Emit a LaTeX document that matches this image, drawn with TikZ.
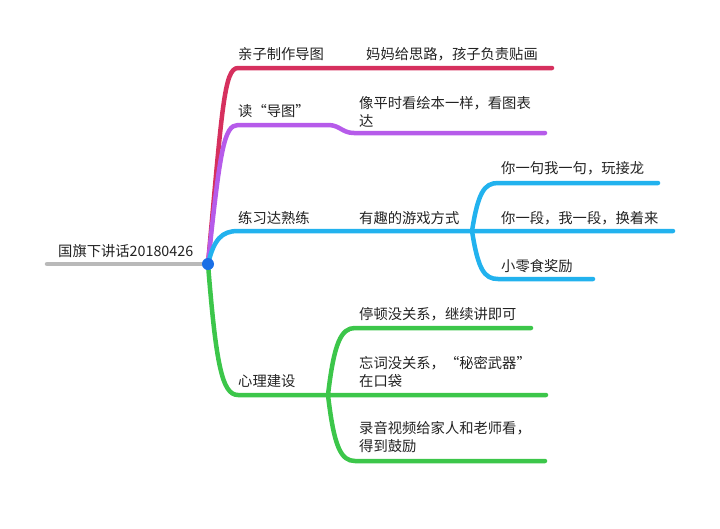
\documentclass[tikz,border=0pt]{standalone}
\usepackage{fontspec}
\newfontfamily\cjk{Noto Sans CJK SC}
\definecolor{rootgray}{HTML}{B9B9B9}
\definecolor{hubblue}{HTML}{1A6FE6}
\definecolor{crimson}{HTML}{D6305E}
\definecolor{violet}{HTML}{B65BEA}
\definecolor{skyblue}{HTML}{22B2EE}
\definecolor{leafgreen}{HTML}{3CC64A}
\definecolor{txt}{HTML}{222222}
\tikzset{
  branch/.style={line width=4.5pt, line cap=round, line join=round},
  label/.style={anchor=west, inner sep=0pt, text=txt, align=left,
    font=\cjk\fontsize{14.3}{18}\selectfont},
  hubdot/.style={circle, fill=hubblue, minimum size=12pt, inner sep=0pt}
}

\begin{document}
\begin{tikzpicture}[x=1pt,y=-1pt]
  \useasboundingbox (0,0) rectangle (720,528);

  % points of the branches
  \coordinate (hub)      at (208,264);
  \coordinate (rootend)  at (47,264);
  \coordinate (b1)       at (238,68);
  \coordinate (b1end)    at (552,68);
  \coordinate (b2)       at (238,125);
  \coordinate (b2mid)    at (328,125);
  \coordinate (b2low)    at (354,133);
  \coordinate (b2end)    at (545,133);
  \coordinate (b3)       at (238,231);
  \coordinate (b3split)  at (472,231);
  \coordinate (b3midend) at (673,231);
  \coordinate (b3up)     at (498,183);
  \coordinate (b3upend)  at (658,183);
  \coordinate (b3dn)     at (498,279);
  \coordinate (b3dnend)  at (593,279);
  \coordinate (b4)       at (238,395);
  \coordinate (b4split)  at (328,395);
  \coordinate (b4midend) at (546,395);
  \coordinate (b4up)     at (355,328);
  \coordinate (b4upend)  at (531,328);
  \coordinate (b4dn)     at (355,461);
  \coordinate (b4dnend)  at (545,461);

  \begin{scope}[every node/.style={label}]
    \node (root)  at (58,251)  {国旗下讲话20180426};
    \node (n1)    at (238,54)  {亲子制作导图};
    \node (n1a)   at (366,54)  {妈妈给思路，孩子负责贴画};
    \node (n2)    at (238,111) {读“导图”};
    \node (n2a)   at (359,111.5) {像平时看绘本一样，看图表\\达};
    \node (n3)    at (238,218) {练习达熟练};
    \node (n3a)   at (359,218) {有趣的游戏方式};
    \node (n3a1)  at (501,168) {你一句我一句，玩接龙};
    \node (n3a2)  at (501,218) {你一段，我一段，换着来};
    \node (n3a3)  at (501,266) {小零食奖励};
    \node (n4)    at (238,381) {心理建设};
    \node (n4a)   at (359,314) {停顿没关系，继续讲即可};
    \node (n4b)   at (359,372) {忘词没关系，“秘密武器”\\在口袋};
    \node (n4c)   at (359,437) {录音视频给家人和老师看，\\得到鼓励};
  \end{scope}

  \draw[branch, rootgray] (rootend) -- (hub);

  \draw[branch, crimson] (hub) .. controls +(14,-154) and +(-14,0) .. (b1) -- (b1end);
  \draw[branch, violet] (hub) .. controls +(12,-114) and +(-14,0) .. (b2) -- (b2mid)
    .. controls +(12,0) and +(-12,0) .. (b2low) -- (b2end);

  \draw[branch, skyblue] (hub) .. controls +(6,-25) and +(-16,0) .. (b3) -- (b3split) -- (b3midend);
  \draw[branch, skyblue] (b3split) .. controls +(6,-38) and +(-14,0) .. (b3up) -- (b3upend);
  \draw[branch, skyblue] (b3split) .. controls +(6,38) and +(-14,0) .. (b3dn) -- (b3dnend);

  \draw[branch, leafgreen] (hub) .. controls +(8,100) and +(-16,0) .. (b4) -- (b4split) -- (b4midend);
  \draw[branch, leafgreen] (b4split) .. controls +(6,-52) and +(-14,0) .. (b4up) -- (b4upend);
  \draw[branch, leafgreen] (b4split) .. controls +(6,52) and +(-14,0) .. (b4dn) -- (b4dnend);

  \node[hubdot] (centre) at (hub) {};

\end{tikzpicture}
\end{document}
